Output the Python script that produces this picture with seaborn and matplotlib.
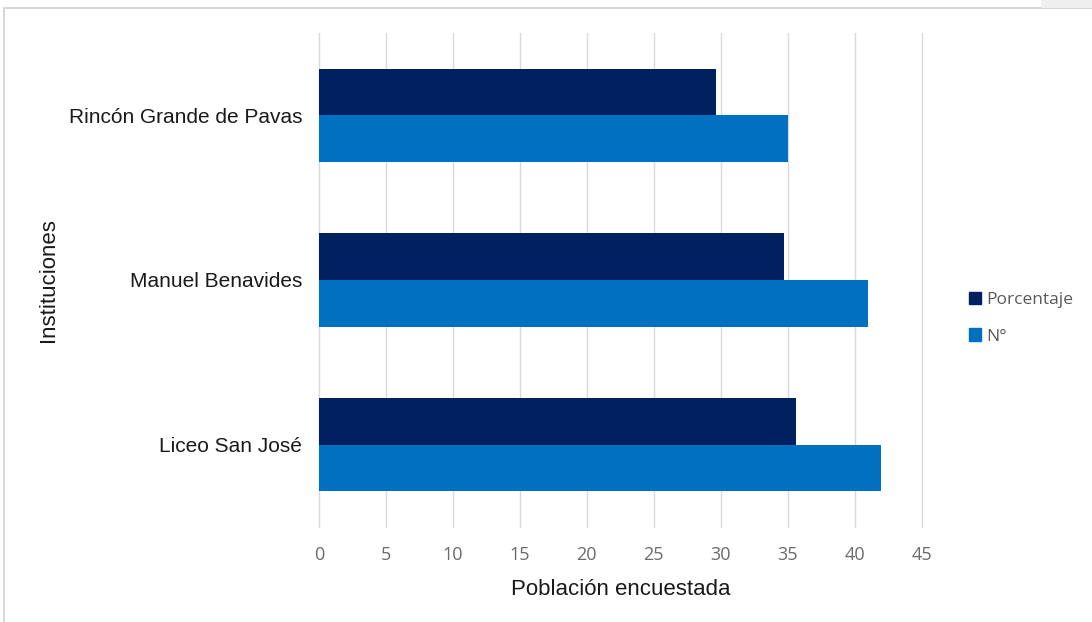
import matplotlib
matplotlib.use("Agg")
import matplotlib.pyplot as plt
from matplotlib.patches import Rectangle
import seaborn as sns
import pandas as pd

instituciones = ["Rincón Grande de Pavas", "Manuel Benavides", "Liceo San José"]
porcentaje = [29.66, 34.75, 35.59]
numero = [35, 41, 42]
series = ["Porcentaje", "N°"]
colores = ["#002060", "#0070C0"]
x_ticks = [0, 5, 10, 15, 20, 25, 30, 35, 40, 45]

df = pd.DataFrame({
    "Institución": instituciones * 2,
    "Valor": porcentaje + numero,
    "Serie": [series[0]] * 3 + [series[1]] * 3,
})

sns.set_theme(style="white")
plt.rcParams["font.family"] = ["Liberation Sans", "DejaVu Sans"]

fig = plt.figure(figsize=(10.92, 6.22), dpi=100)
ax = fig.add_axes([0.292, 0.1527, 0.552, 0.7943])

sns.barplot(data=df, y="Institución", x="Valor", hue="Serie",
            order=instituciones, hue_order=series, palette=colores,
            orient="h", width=0.565, saturation=1, ax=ax, legend=False,
            edgecolor="none", linewidth=0)

ax.set_xlim(0, 45)
ax.set_ylim(2.5, -0.5)
ax.set_xticks(x_ticks)
ax.set_xticklabels([str(t) for t in x_ticks], fontsize=13, color="#6b6b6b",
                   family=["Open Sans", "DejaVu Sans"])
ax.tick_params(axis="y", labelsize=15, labelcolor="#1a1a1a", length=0, pad=12)
ax.tick_params(axis="x", length=0, pad=14)
ax.grid(axis="x", color="#d9d9d9", linewidth=1)
for gl in ax.get_xgridlines():
    gl.set_clip_on(False)
ax.set_axisbelow(True)
for s in ax.spines.values():
    s.set_visible(False)

ax.set_xlabel("Población encuestada", fontsize=16, color="#1a1a1a")
ax.xaxis.set_label_coords(0.5, -0.106)
ax.set_ylabel("Instituciones", fontsize=16, color="#1a1a1a")
ax.yaxis.set_label_coords(-0.431, 0.5)

handles = [Rectangle((0, 0), 1, 1, color=c) for c in colores]
fig.legend(handles, series, loc="center left", bbox_to_anchor=(0.873, 0.488),
           frameon=False, handlelength=0.7, handleheight=0.7,
           handletextpad=0.3, labelspacing=1.15, labelcolor="#595959",
           prop={"family": ["Open Sans", "DejaVu Sans"], "size": 12.5})

# light frame around the chart area
fig.patches.append(Rectangle((0.004, -0.01), 1.2, 0.997, transform=fig.transFigure,
                             fill=False, edgecolor="#d0d0d0", linewidth=1.2))
fig.patches.append(Rectangle((0.953, 0.987), 0.05, 0.02, transform=fig.transFigure,
                             facecolor="#efefef", edgecolor="none"))

fig.savefig("out.png", dpi=100)
